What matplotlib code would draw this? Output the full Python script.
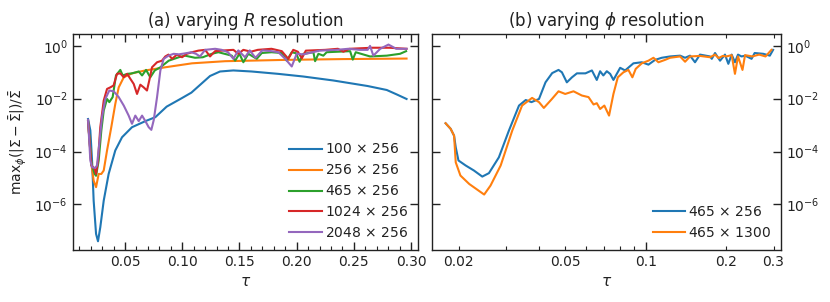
import numpy as np
import matplotlib
matplotlib.use("Agg")
import matplotlib.pyplot as plt
from matplotlib.ticker import MultipleLocator, FixedLocator, FuncFormatter, NullFormatter, LogLocator

plt.rcParams['font.family'] = ['DejaVu Sans']
plt.rcParams['mathtext.fontset'] = 'dejavusans'

# ---------------- data (tau, log10 of max deviation) ----------------
tau_100 = [0.0177, 0.0197, 0.0212, 0.0226, 0.0247, 0.0264, 0.0284, 0.0314, 0.0357, 0.0415, 0.0474,
           0.0561, 0.0678, 0.0765, 0.0864, 0.0996, 0.108, 0.1155, 0.1243, 0.133, 0.1446, 0.1607,
           0.184, 0.2058, 0.232, 0.262, 0.2787, 0.2875, 0.296]
logy_100 = [-2.77, -3.2, -4.34, -5.86, -7.12, -7.40, -6.87, -5.86, -4.85, -3.96, -3.46,
            -3.08, -2.85, -2.70, -2.30, -1.98, -1.77, -1.48, -1.14, -0.97, -0.93, -0.97,
            -1.06, -1.16, -1.31, -1.52, -1.67, -1.84, -2.01]

tau_256 = [0.0177, 0.0206, 0.0226, 0.0247, 0.0270, 0.0293, 0.0314, 0.0343, 0.0380, 0.0415, 0.0445,
           0.0489, 0.0561, 0.0678, 0.0852, 0.1086, 0.1374, 0.190, 0.240, 0.296]
logy_256 = [-2.85, -4.47, -5.10, -5.35, -4.85, -4.85, -4.72, -3.96, -3.08, -2.20, -1.57,
            -1.19, -1.04, -0.93, -0.81, -0.66, -0.58, -0.53, -0.50, -0.48]

tau_465 = [0.0177, 0.0206, 0.0235, 0.0247, 0.0270, 0.0293, 0.0314, 0.0343, 0.0363, 0.0392, 0.0421,
           0.0459, 0.0480, 0.0519, 0.0561, 0.0620, 0.0649, 0.0684, 0.0721, 0.0760, 0.0809, 0.0882,
           0.0970, 0.1024, 0.1112, 0.118, 0.1258, 0.1316, 0.1433, 0.1462, 0.150, 0.1534, 0.1578,
           0.1651, 0.1695, 0.178, 0.187, 0.1913, 0.1957, 0.1995, 0.2025, 0.2058, 0.2146, 0.2161,
           0.219, 0.2233, 0.2262, 0.2467, 0.249, 0.2516, 0.2641, 0.2787, 0.2903, 0.2956]
logy_465 = [-2.85, -4.47, -4.85, -4.92, -4.34, -3.21, -2.45, -2.01, -2.13, -1.94, -1.12,
            -0.91, -1.12, -1.06, -1.04, -0.97, -1.12, -0.91, -1.19, -0.93, -0.81, -0.56,
            -0.43, -0.37, -0.45, -0.43, -0.30, -0.24, -0.37, -0.56, -0.30, -0.62, -0.30,
            -0.49, -0.27, -0.24, -0.27, -0.56, -0.24, -0.28, -0.60, -0.30, -0.24, -0.58,
            -0.30, -0.37, -0.24, -0.20, -0.52, -0.24, -0.40, -0.37, -0.30, -0.20]

tau_1024 = [0.0177, 0.0206, 0.0235, 0.0247, 0.0264, 0.0284, 0.0314, 0.0343, 0.0372, 0.0400, 0.0430,
            0.0459, 0.0489, 0.0519, 0.0547, 0.0576, 0.0605, 0.0634, 0.0663, 0.0692, 0.0712, 0.0736,
            0.0780, 0.0823, 0.0852, 0.0880, 0.0911, 0.0954, 0.0998, 0.1040, 0.1086, 0.1140, 0.1200,
            0.1243, 0.1287, 0.1374, 0.1447, 0.1490, 0.1534, 0.1600, 0.1660, 0.178, 0.187, 0.1927,
            0.1970, 0.2010, 0.2045, 0.2080, 0.225, 0.236, 0.2408, 0.246, 0.266, 0.281, 0.296]
logy_1024 = [-2.85, -4.53, -4.66, -4.85, -4.34, -3.08, -2.07, -1.63, -1.57, -1.50, -1.06,
             -1.04, -1.19, -1.06, -1.25, -1.44, -1.82, -1.47, -1.57, -1.69, -1.31, -0.81,
             -0.62, -0.56, -0.40, -0.33, -0.49, -0.33, -0.43, -0.30, -0.24, -0.18, -0.15,
             -0.40, -0.20, -0.17, -0.15, -0.30, -0.15, -0.22, -0.15, -0.11, -0.20, -0.49,
             -0.15, -0.22, -0.47, -0.18, -0.15, -0.11, -0.22, -0.11, -0.07, -0.07, -0.11]

tau_2048 = [0.0177, 0.0197, 0.0212, 0.0240, 0.0255, 0.0275, 0.0299, 0.0328, 0.0363, 0.0401, 0.0445,
            0.0489, 0.0532, 0.0561, 0.0590, 0.0620, 0.0649, 0.0678, 0.0707, 0.0730, 0.0751, 0.0780,
            0.0809, 0.0838, 0.0880, 0.0925, 0.0970, 0.1030, 0.108, 0.112, 0.1155, 0.1200, 0.1287,
            0.1345, 0.140, 0.1447, 0.149, 0.1549, 0.159, 0.164, 0.170, 0.178, 0.184, 0.190, 0.1957,
            0.200, 0.206, 0.220, 0.235, 0.245, 0.255, 0.262, 0.2641, 0.267, 0.273, 0.2802, 0.287, 0.296]
logy_2048 = [-2.80, -4.34, -4.60, -4.62, -4.53, -3.71, -2.70, -2.01, -1.69, -1.72, -1.94,
             -2.26, -2.64, -2.95, -2.64, -2.85, -2.64, -2.85, -3.08, -3.18, -2.81, -1.94,
             -0.93, -0.49, -0.37, -0.30, -0.32, -0.28, -0.24, -0.30, -0.40, -0.15, -0.11,
             -0.15, -0.24, -0.49, -0.17, -0.43, -0.17, -0.45, -0.17, -0.20, -0.24, -0.49, -0.78,
             -0.30, -0.32, -0.18, -0.15, -0.11, -0.15, -0.15, 0.0, -0.37, -0.11, 0.05, -0.11, -0.11]

tau_phi256 = [0.01787, 0.01866, 0.01922, 0.0195, 0.01996, 0.02124, 0.0228, 0.0245, 0.02594, 0.02826,
              0.0308, 0.0336, 0.0356, 0.0374, 0.0399, 0.0422, 0.0447, 0.0472, 0.0486, 0.0507, 0.0530,
              0.0553, 0.0595, 0.0629, 0.0656, 0.0675, 0.0694, 0.0715, 0.0736, 0.0757, 0.0802, 0.0837,
              0.0899, 0.0966, 0.1023, 0.1083, 0.1147, 0.1232, 0.1343, 0.1402, 0.1463, 0.1527, 0.1594,
              0.1738, 0.1764, 0.1814, 0.1894, 0.1976, 0.2034, 0.2093, 0.2153, 0.2210, 0.2278, 0.2350,
              0.2484, 0.2550, 0.2746, 0.2906, 0.2989]
logy_phi256 = [-2.93, -3.14, -3.40, -3.84, -4.34, -4.53, -4.72, -4.95, -4.82, -4.22,
               -3.21, -2.26, -2.05, -2.13, -2.01, -1.38, -1.03, -0.91, -1.00, -1.38, -1.19,
               -1.04, -1.04, -0.93, -1.29, -0.96, -1.12, -0.96, -1.06, -1.29, -0.83, -0.93,
               -0.66, -0.62, -0.71, -0.53, -0.45, -0.40, -0.37, -0.45, -0.37, -0.62, -0.33,
               -0.40, -0.49, -0.27, -0.56, -0.33, -0.68, -0.33, -0.62, -0.33, -0.40, -0.37,
               -0.49, -0.27, -0.30, -0.37, -0.15]

tau_phi1300 = [0.01787, 0.01866, 0.01922, 0.0195, 0.0203, 0.0219, 0.0249, 0.0263, 0.0287, 0.0317,
               0.0345, 0.0376, 0.0399, 0.0416, 0.0446, 0.0472, 0.0500, 0.0537, 0.0577, 0.0611, 0.0638,
               0.0656, 0.0675, 0.0700, 0.0729, 0.0757, 0.0786, 0.0825, 0.0861, 0.0891, 0.0917, 0.0966,
               0.1023, 0.1068, 0.1115, 0.1180, 0.1232, 0.1343, 0.1402, 0.1463, 0.1594, 0.1738, 0.1814,
               0.1870, 0.194, 0.200, 0.2093, 0.2153, 0.2210, 0.2297, 0.2348, 0.2500, 0.2650, 0.2800, 0.2947]
logy_phi1300 = [-2.93, -3.14, -3.40, -4.41, -4.91, -5.23, -5.63, -5.29, -4.53, -3.21,
                -2.26, -1.97, -2.13, -2.35, -2.01, -1.72, -1.82, -1.72, -1.88, -1.94, -2.22,
                -2.17, -2.39, -2.26, -2.64, -1.82, -1.19, -1.00, -0.91, -1.19, -0.87, -0.66,
                -0.56, -0.45, -0.62, -0.53, -0.45, -0.40, -0.60, -0.40, -0.38, -0.43, -0.33,
                -0.46, -0.38, -0.40, -0.35, -1.06, -0.40, -0.91, -0.35, -0.40, -0.33, -0.40, -0.15]

labels_R = ["100 $\\times$ 256", "256 $\\times$ 256", "465 $\\times$ 256",
            "1024 $\\times$ 256", "2048 $\\times$ 256"]
labels_phi = ["465 $\\times$ 256", "465 $\\times$ 1300"]
colors = ["#1f77b4", "#ff7f0e", "#2ca02c", "#d62728", "#9467bd"]

# ---------------- figure ----------------
fig = plt.figure(figsize=(8.30, 3.02), dpi=100)
axL = fig.add_axes([0.0876, 0.1722, 0.416, 0.7152])
axR = fig.add_axes([0.5205, 0.1722, 0.4205, 0.7152])

tc = '#222222'
lw = 1.5

series_R = [(tau_100, logy_100), (tau_256, logy_256), (tau_465, logy_465),
            (tau_1024, logy_1024), (tau_2048, logy_2048)]
for (t, ly), lab, c in zip(series_R, labels_R, colors):
    axL.plot(t, 10.0 ** np.array(ly), color=c, lw=lw, label=lab)

series_P = [(tau_phi256, logy_phi256), (tau_phi1300, logy_phi1300)]
for (t, ly), lab, c in zip(series_P, labels_phi, colors[:2]):
    axR.plot(t, 10.0 ** np.array(ly), color=c, lw=lw, label=lab)

ylim = (10 ** -7.73, 10 ** 0.45)
yt = [1e-6, 1e-4, 1e-2, 1e0]

# left axis
axL.set_yscale('log')
axL.set_xlim(0.0043, 0.306)
axL.set_ylim(*ylim)
axL.xaxis.set_major_locator(MultipleLocator(0.05))
axL.xaxis.set_minor_locator(MultipleLocator(0.01))
axL.xaxis.set_major_formatter(FuncFormatter(lambda v, p: f"{v:.2f}"))
axL.set_yticks(yt)
axL.yaxis.set_minor_locator(FixedLocator([]))
axL.tick_params(which='both', direction='in', top=True, right=True, labelsize=10, colors=tc)
axL.tick_params(which='major', length=6, width=1)
axL.tick_params(which='minor', length=3, width=0.8)
axL.set_xlabel(r'$\tau$', fontsize=11, color=tc)
axL.set_ylabel(r'$\mathrm{max}_\phi(|\Sigma - \bar{\Sigma}|)/\bar{\Sigma}$', fontsize=10, color=tc)
axL.set_title(r'(a) varying $R$ resolution', fontsize=12, color=tc, pad=6)
axL.legend(loc='lower right', frameon=False, fontsize=10, handlelength=2.35,
           handletextpad=0.2, labelspacing=0.5, borderaxespad=0.3, labelcolor=tc)

# right axis
axR.set_xscale('log')
axR.set_yscale('log')
axR.set_xlim(0.0159, 0.32)
axR.set_ylim(*ylim)
axR.xaxis.set_major_locator(FixedLocator([0.1]))
axR.xaxis.set_minor_locator(FixedLocator([0.02, 0.03, 0.04, 0.05, 0.06, 0.07, 0.08, 0.09, 0.2, 0.3]))
axR.xaxis.set_major_formatter(FuncFormatter(lambda v, p: "0.1"))
minor_lab = {0.02: "0.02", 0.05: "0.05", 0.2: "0.2", 0.3: "0.3"}
axR.xaxis.set_minor_formatter(FuncFormatter(
    lambda v, p: next((s for k, s in minor_lab.items() if abs(v - k) < 1e-6), "")))
axR.set_yticks(yt)
axR.yaxis.set_minor_locator(FixedLocator([]))
axR.yaxis.tick_right()
axR.tick_params(which='both', direction='in', top=True, left=True, right=True,
                labelsize=10, colors=tc)
axR.tick_params(axis='x', which='minor', labelsize=10)
axR.tick_params(which='major', length=6, width=1)
axR.tick_params(which='minor', length=3, width=0.8)
axR.set_xlabel(r'$\tau$', fontsize=11, color=tc)
axR.set_title(r'(b) varying $\phi$ resolution', fontsize=12, color=tc, pad=6)
axR.legend(loc='lower right', frameon=False, fontsize=10, handlelength=2.35,
           handletextpad=0.2, labelspacing=0.5, borderaxespad=0.3, labelcolor=tc)

for ax in (axL, axR):
    for s in ax.spines.values():
        s.set_color(tc)
        s.set_linewidth(1.0)

fig.savefig('out.png', dpi=100)
